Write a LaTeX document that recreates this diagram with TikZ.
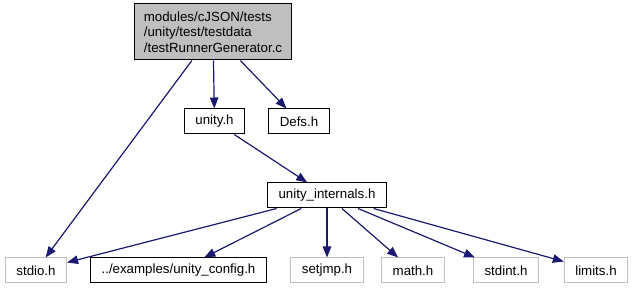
\documentclass[tikz,border=0pt]{standalone}
\usepackage{fontspec}
\setmainfont{Liberation Sans}
\usetikzlibrary{arrows.meta}
\definecolor{cedge}{HTML}{191970}
\definecolor{cgrey}{HTML}{BFBFBF}
\tikzset{
  every picture/.style={x=1pt, y=-1pt, font=\fontsize{13.3}{15.5}\selectfont},
  hdr/.style={draw=black, fill=white, line width=1pt, inner xsep=11pt,
    inner ysep=0pt, minimum height=25pt},
  sys/.style={hdr, draw=cgrey},
  src/.style={hdr, fill=cgrey, align=left, minimum height=56pt, inner xsep=9pt},
  inc/.style={cedge, line width=1.2pt, -{Triangle[length=11pt,width=8.5pt]}},
}

\begin{document}
\begin{tikzpicture}
  \useasboundingbox (0,0) rectangle (633,291);
  % the source file and its direct includes
  \node[src] (main) at (213,32) {modules/cJSON/tests\\/unity/test/testdata\\/testRunnerGenerator.c};
  \node[hdr] (unity) at (214.5,121.5) {unity.h};
  \node[hdr] (defs) at (299,121.5) {Defs.h};
  \node[hdr] (internals) at (327,195.5) {unity\_internals.h};
  % bottom row
  \node[sys] (stdio) at (36,270.5) {stdio.h};
  \node[hdr] (config) at (178.5,270.5) {../examples/unity\_config.h};
  \node[sys] (setjmp) at (327,270.5) {setjmp.h};
  \node[sys] (math) at (413,270.5) {math.h};
  \node[sys] (stdint) at (506,270.5) {stdint.h};
  \node[sys] (limits) at (596,270.5) {limits.h};
  \draw[inc] (main) -- (stdio);
  \draw[inc] (main) -- (unity);
  \draw[inc] (main) -- (defs);
  \draw[inc] (unity) -- (internals);
  \foreach \t in {stdio,config,setjmp,math,stdint,limits}
    \draw[inc] (internals) -- (\t);
\end{tikzpicture}
\end{document}
